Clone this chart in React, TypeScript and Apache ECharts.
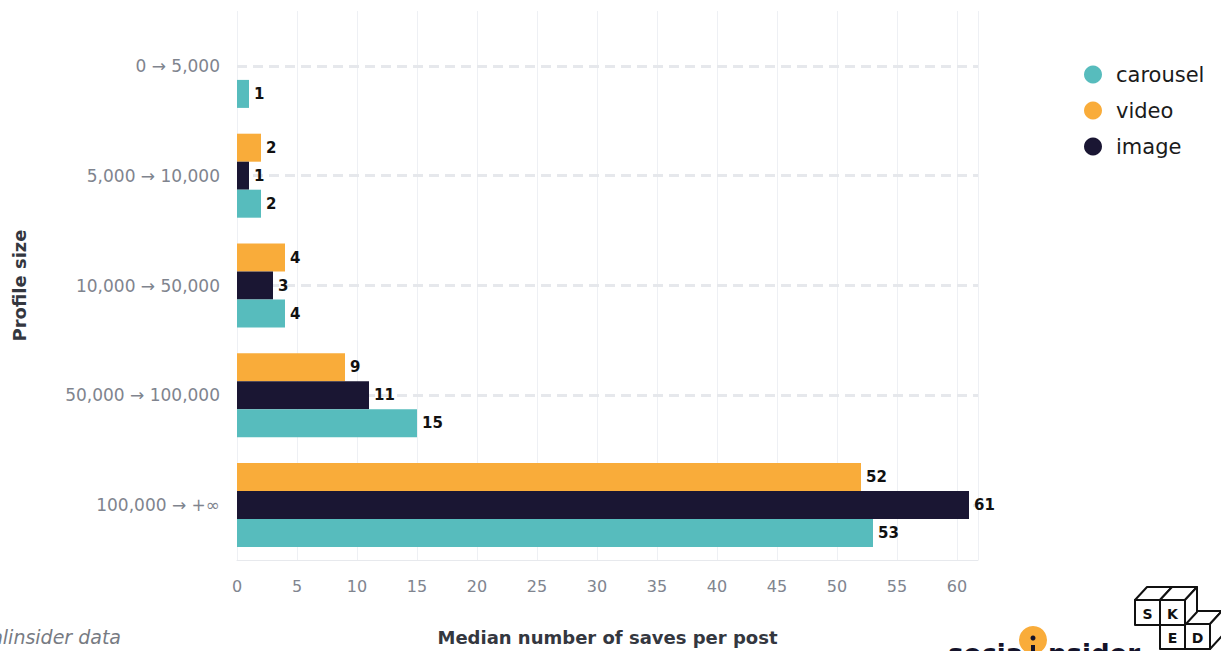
import { useEffect, useRef } from 'react';
import * as echarts from 'echarts';

// Profile-size buckets, listed top to bottom
const profileSizes = ['0 → 5,000', '5,000 → 10,000', '10,000 → 50,000', '50,000 → 100,000', '100,000 → +∞'];

// Median saves per post, per format
const carouselSaves = [1, 2, 4, 15, 53];
const imageSaves = [null, 1, 3, 11, 61];
const videoSaves = [null, 2, 4, 9, 52];

const legendOrder = ['carousel', 'video', 'image'];
const xTickStep = 5;
const xMax = 61.75;

const COLORS = {
  carousel: '#57BCBD',
  video: '#F9AC3A',
  image: '#1A1633',
};

const FONT = '"DejaVu Sans", "Noto Sans", sans-serif';

type CubeFaces = { top?: boolean; right?: boolean };

function cube(x: number, y: number, s: number, dx: number, dy: number, letter: string, faces: CubeFaces) {
  const stroke = { stroke: '#111', lineWidth: 2, fill: '#fff', lineJoin: 'round' };
  const out: any[] = [];
  if (faces.top) {
    out.push({
      type: 'polygon',
      shape: { points: [[x, y], [x + dx, y - dy], [x + s + dx, y - dy], [x + s, y]] },
      style: stroke,
    });
  }
  if (faces.right) {
    out.push({
      type: 'polygon',
      shape: { points: [[x + s, y], [x + s + dx, y - dy], [x + s + dx, y + s - dy], [x + s, y + s]] },
      style: stroke,
    });
  }
  out.push({ type: 'rect', shape: { x, y, width: s, height: s }, style: stroke });
  out.push({
    type: 'text',
    x: x + s / 2,
    y: y + s / 2 + 1,
    style: { text: letter, fill: '#111', font: `bold 14px ${FONT}`, align: 'center', verticalAlign: 'middle' },
  });
  return out;
}

export default function App() {
  const ref = useRef<HTMLDivElement>(null);

  useEffect(() => {
    if (!ref.current) return;
    const chart = echarts.init(ref.current, null, { renderer: 'svg' });

    const valueLabel = {
      show: true,
      position: 'right',
      distance: 5,
      color: '#111',
      fontFamily: FONT,
      fontWeight: 'bold',
      fontSize: 15,
    };

    const bar = (name: string, data: (number | null)[]) => ({
      name,
      type: 'bar',
      data,
      barWidth: 28,
      barGap: '0%',
      itemStyle: { color: (COLORS as any)[name] },
      label: valueLabel,
      z: 3,
    });

    const cubeSize = 25;
    const dx = 12;
    const dy = 13;

    chart.setOption({
      animation: false,
      textStyle: { fontFamily: FONT },
      grid: { left: 237, right: 243, top: 11, bottom: 88 },
      legend: {
        orient: 'vertical',
        left: 1079,
        top: 59,
        itemGap: 15,
        itemWidth: 18,
        itemHeight: 18,
        icon: 'circle',
        data: legendOrder,
        textStyle: { fontSize: 21, color: '#1b1b1b', fontFamily: FONT, padding: [0, 0, 0, 9] },
      },
      xAxis: {
        type: 'value',
        min: 0,
        max: xMax,
        interval: xTickStep,
        name: 'Median number of saves per post',
        nameLocation: 'middle',
        nameGap: 68,
        nameTextStyle: { fontSize: 18, fontWeight: 'bold', color: '#34373f', fontFamily: FONT },
        axisLine: { show: true, lineStyle: { color: '#e7e9ed', width: 1 } },
        axisTick: { show: false },
        axisLabel: { color: '#80858f', fontSize: 16, margin: 18, fontFamily: FONT },
        splitLine: { show: true, lineStyle: { color: '#eef0f4', width: 1 } },
      },
      yAxis: {
        type: 'category',
        inverse: true,
        data: profileSizes,
        name: 'Profile size',
        nameLocation: 'middle',
        nameRotate: 90,
        nameGap: 209,
        nameTextStyle: { fontSize: 18, fontWeight: 'bold', color: '#34373f', fontFamily: FONT },
        axisLine: { show: false },
        axisTick: { show: false },
        splitLine: { show: false },
        axisLabel: { color: '#7f848e', fontSize: 17, margin: 17, fontFamily: FONT },
      },
      series: [
        bar('video', videoSaves),
        bar('image', imageSaves),
        bar('carousel', carouselSaves),
        {
          // dashed guide through the middle of each profile-size group
          name: 'guides',
          type: 'line',
          data: [],
          silent: true,
          z: 1,
          markLine: {
            silent: true,
            z: 1,
            symbol: ['none', 'none'],
            label: { show: false },
            lineStyle: { color: '#e6e8ec', type: [10, 6], width: 3 },
            data: profileSizes.map((c) => ({ yAxis: c })),
          },
        },
      ],
      graphic: [
        {
          type: 'text',
          x: 121,
          y: 637,
          style: {
            text: 'Source: Socialinsider data',
            fill: '#777b83',
            font: `italic 19px ${FONT}`,
            align: 'right',
            verticalAlign: 'middle',
          },
        },
        {
          type: 'text',
          x: 948,
          y: 654,
          style: { text: 'social', fill: '#14132a', font: `bold 26px ${FONT}`, align: 'left', verticalAlign: 'middle' },
        },
        {
          type: 'text',
          x: 1048,
          y: 654,
          style: { text: 'nsider', fill: '#14132a', font: `bold 26px ${FONT}`, align: 'left', verticalAlign: 'middle' },
        },
        { type: 'circle', shape: { cx: 1033, cy: 640, r: 14 }, style: { fill: '#F9AC3A' } },
        { type: 'circle', shape: { cx: 1033, cy: 638, r: 2.5 }, style: { fill: '#14132a' } },
        { type: 'rect', shape: { x: 1031, y: 645, width: 4, height: 10 }, style: { fill: '#14132a' } },
        // back-to-front so nearer faces cover hidden edges
        ...cube(1160, 624, cubeSize, dx, dy, 'E', {}),
        ...cube(1185, 624, cubeSize, dx, dy, 'D', { top: true, right: true }),
        ...cube(1135, 600, cubeSize, dx, dy, 'S', { top: true }),
        ...cube(1160, 600, cubeSize, dx, dy, 'K', { top: true, right: true }),
      ],
    });

    return () => chart.dispose();
  }, []);

  return (
    <div
      ref={ref}
      style={{ position: 'absolute', left: 0, top: 0, width: 1221, height: 651, background: '#fff' }}
    />
  );
}
